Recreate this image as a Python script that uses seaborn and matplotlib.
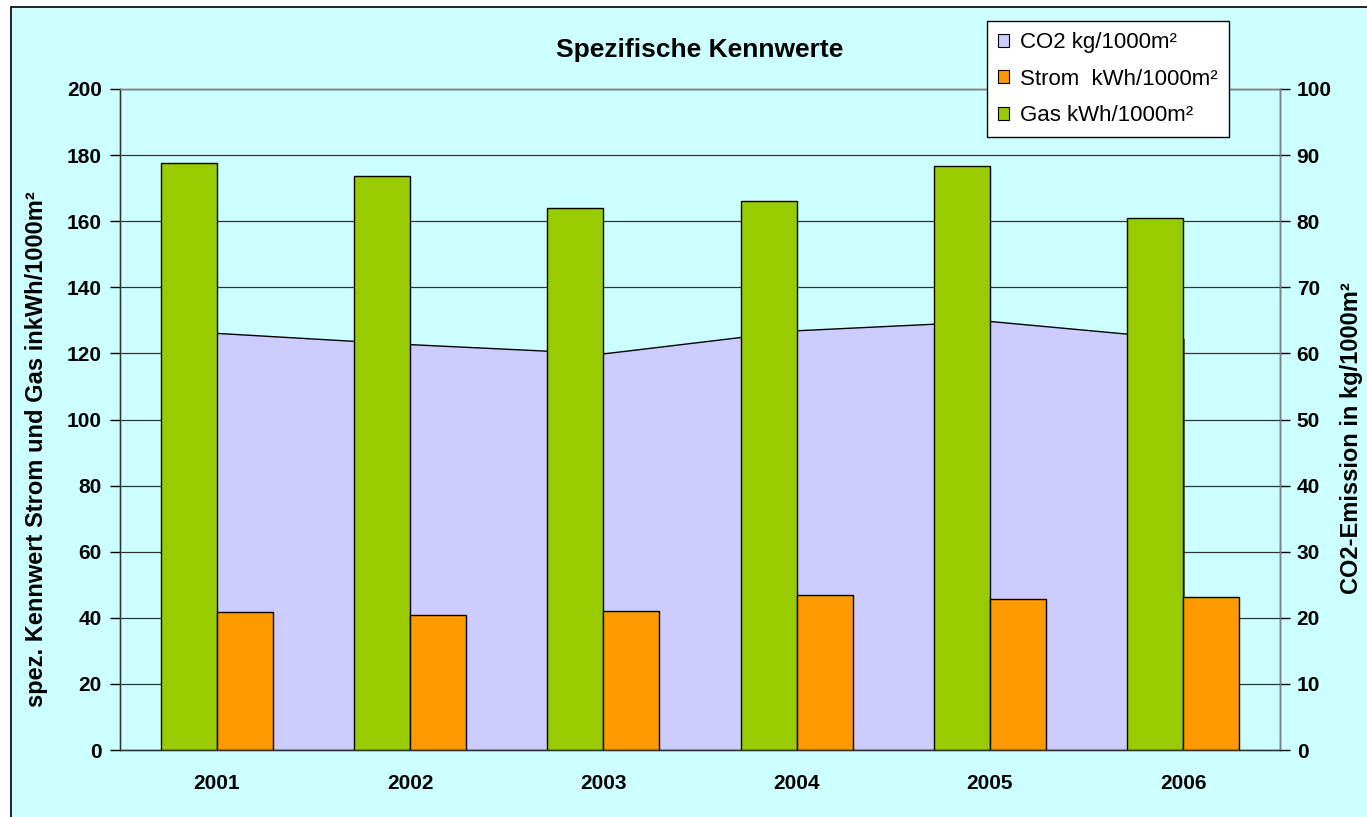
import matplotlib
matplotlib.use("Agg")
import matplotlib.pyplot as plt
from matplotlib.patches import Patch, Rectangle
from matplotlib.ticker import MultipleLocator, FixedLocator
import numpy as np
import pandas as pd
import seaborn as sns

years = ["2001", "2002", "2003", "2004", "2005", "2006"]
gas = [177.6, 173.7, 164.0, 166.1, 176.7, 161.0]     # kWh/1000m² (left axis)
strom = [41.8, 40.8, 42.0, 46.9, 45.7, 46.3]         # kWh/1000m² (left axis)
co2 = [63.1, 61.4, 60.0, 63.5, 64.9, 62.2]           # kg/1000m² (right axis)

green = "#99CC00"
orange = "#FF9900"
lavender = "#CCCCFF"
cyan_bg = "#CCFFFF"

df = pd.DataFrame({
    "Jahr": years * 2,
    "Serie": ["Gas"] * len(years) + ["Strom"] * len(years),
    "Wert": gas + strom,
})

sns.set_style("white")
plt.rcParams["font.family"] = ["Liberation Sans", "DejaVu Sans"]
plt.rcParams["text.color"] = "black"
plt.rcParams["axes.labelcolor"] = "black"
plt.rcParams["xtick.color"] = "black"
plt.rcParams["ytick.color"] = "black"

fig = plt.figure(figsize=(13.67, 8.17), dpi=100, facecolor="white")
# chart area with border (cropped on right/bottom like the original)
fig.add_artist(Rectangle((11 / 1367, -0.02), 1.0, 1 - 7 / 817 + 0.02,
                         transform=fig.transFigure, facecolor=cyan_bg,
                         edgecolor="black", linewidth=1.2, zorder=-10))

ax = fig.add_axes([120 / 1367, 1 - 750 / 817, 1160 / 1367, 661 / 817])
ax2 = ax.twinx()

# secondary axis: white plot area, gridlines, CO2 area (drawn below the bars)
ax2.set_facecolor("white")
x = np.arange(len(years))
ax2.fill_between(x, co2, 0, facecolor=lavender, edgecolor="black", linewidth=1, zorder=2)
ax2.set_ylim(0, 100)
ax2.yaxis.set_major_locator(MultipleLocator(10))
ax2.grid(axis="y", color="#333333", linewidth=0.9, zorder=0)
ax2.set_axisbelow(True)

ax.set_zorder(ax2.get_zorder() + 1)
ax.patch.set_visible(False)

sns.barplot(data=df, x="Jahr", y="Wert", hue="Serie", hue_order=["Gas", "Strom"],
            palette=[green, orange], saturation=1, width=0.58, gap=0,
            edgecolor="black", linewidth=1, legend=False, ax=ax)

ax.set_xlim(-0.5, len(years) - 0.5)
ax.set_ylim(0, 200)
ax.yaxis.set_major_locator(MultipleLocator(20))

# tick styling
ax.tick_params(axis="y", which="major", direction="out", length=7, width=1,
               labelsize=15, pad=6)
ax.tick_params(axis="x", which="major", length=0, labelsize=15, pad=17)
ax.xaxis.set_minor_locator(FixedLocator(np.arange(-0.5, len(years), 1.0)))
ax.tick_params(axis="x", which="minor", direction="out", length=5, width=1)
ax2.tick_params(axis="y", direction="out", length=7, width=1, labelsize=15, pad=5)
for lbl in ax.get_xticklabels() + ax.get_yticklabels() + ax2.get_yticklabels():
    lbl.set_fontweight("bold")

for a in (ax, ax2):
    for s in a.spines.values():
        s.set_color("#808080")
        s.set_linewidth(1)
ax.spines["left"].set_color("#333333")
ax2.spines["right"].set_color("#333333")
ax.spines["bottom"].set_color("#333333")

ax.set_xlabel("")
ax.set_ylabel("spez. Kennwert Strom und Gas inkWh/1000m²", fontsize=17, fontweight="bold")
ax.yaxis.set_label_coords(-0.062, 0.455)
ax2.set_ylabel("CO2-Emission in kg/1000m²", fontsize=17, fontweight="bold")
ax2.yaxis.set_label_coords(1.052, 0.472)

fig.text(700 / 1367, 1 - 50 / 817, "Spezifische Kennwerte", ha="center", va="center",
         fontsize=19, fontweight="bold")

handles = [
    Patch(facecolor=lavender, edgecolor="black", linewidth=0.8, label="CO2 kg/1000m²"),
    Patch(facecolor=orange, edgecolor="black", linewidth=0.8, label="Strom  kWh/1000m²"),
    Patch(facecolor=green, edgecolor="black", linewidth=0.8, label="Gas kWh/1000m²"),
]
leg = fig.legend(handles=handles, loc="upper left",
                 bbox_to_anchor=(987 / 1367, 1 - 21 / 817),
                 frameon=True, fancybox=False, shadow=False, fontsize=16,
                 handlelength=0.5, handleheight=0.5, handletextpad=0.5,
                 labelspacing=0.7, borderpad=0.5, borderaxespad=0)
leg.get_frame().set_edgecolor("black")
leg.get_frame().set_linewidth(1)
leg.get_frame().set_facecolor("white")
leg.get_frame().set_alpha(1)

fig.savefig("out.png", dpi=100, facecolor=fig.get_facecolor())
